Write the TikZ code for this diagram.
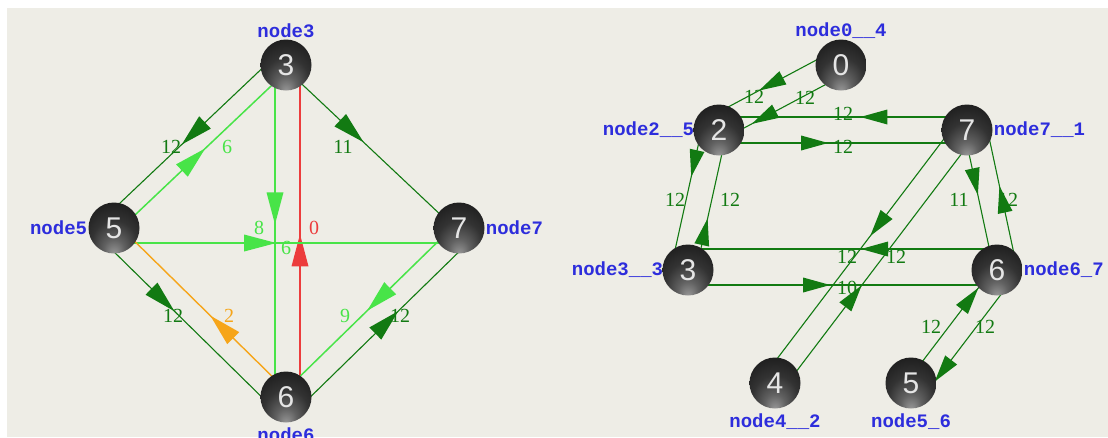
\documentclass[tikz,border=0pt]{standalone}
\usepackage{fontspec}
\setmainfont{Liberation Serif}
\newfontfamily\lblfont{Liberation Mono}
\newfontfamily\ballfont{Liberation Sans}
\usetikzlibrary{calc,decorations.markings}
\definecolor{bgbeige}{RGB}{238,237,230}
\definecolor{dkgreen}{RGB}{18,122,18}
\definecolor{ltgreen}{RGB}{72,228,72}
\definecolor{redline}{RGB}{236,60,60}
\definecolor{orline}{RGB}{246,165,25}
\definecolor{nodeblue}{RGB}{45,45,220}
\pgfdeclareradialshading{knob}{\pgfpoint{0bp}{-26bp}}{color(0bp)=(black!40); color(10bp)=(black!62); color(22bp)=(black!80); color(34bp)=(black!88); color(50bp)=(black!96)}
\pgfdeclarelayer{bg}
\pgfsetlayers{bg,main}
\def\hlen{28pt}
\def\hwid{7pt}
\tikzset{
  ball/.style={circle, minimum size=51pt, inner sep=0pt, shading=knob,
    text=white!90!black, font=\ballfont\fontsize{30}{30}\selectfont},
  nname/.style={text=nodeblue, font=\lblfont\bfseries\fontsize{19}{19}\selectfont, inner sep=1pt},
  elbl/.style={font=\fontsize{20}{20}\selectfont, inner sep=0pt},
  dk/.style={color=dkgreen, line width=1.1pt},
  lt/.style={color=ltgreen, line width=1.5pt},
  rd/.style={color=redline, line width=1.4pt},
  og/.style={color=orline, line width=1.4pt},
  tipat/.style={postaction={decorate,decoration={markings,
      mark=at position #1 with {\fill (0pt,0pt) -- (-\hlen,\hwid) -- (-\hlen,-\hwid) -- cycle;}}}}
}

\begin{document}
\begin{tikzpicture}[x=1pt,y=-1pt]
\useasboundingbox (0,0) rectangle (1108,437);
\begin{pgfonlayer}{bg}
  \fill[white] (0,0) rectangle (1108,437);
  \fill[bgbeige] (7,8) rectangle (1108,437);
\end{pgfonlayer}

% left graph
\begin{scope}
  \def\hlen{32pt}\def\hwid{8.5pt}
  \node[ball, label={[nname]above:node3}] (l3) at (286,65) {3};
  \node[ball, label={[nname]left:node5}] (l5) at (114,228) {5};
  \node[ball, label={[nname]right:node7}] (l7) at (459,228) {7};
  \node[ball, label={[nname,label distance=4pt]below:node6}] (l6) at (286,397) {6};

  \begin{pgfonlayer}{bg}
    \draw[dk, tipat=0.55] ($(l3)!14pt!-90:(l5)$) -- ($(l5)!14pt!90:(l3)$);
    \draw[lt, tipat=0.51] ($(l5)!5pt!-90:(l3)$) -- ($(l3)!5pt!90:(l5)$);
    \draw[dk, tipat=0.46] ($(l3)!3pt!-90:(l7)$) -- ($(l7)!3pt!90:(l3)$);
    \draw[lt, tipat=0.48] ($(l3)!11pt!-90:(l6)$) -- ($(l6)!11pt!90:(l3)$);
    \draw[rd, tipat=0.49] ($(l6)!14pt!-90:(l3)$) -- ($(l3)!14pt!90:(l6)$);
    \draw[lt, tipat=0.47] ($(l5)!15pt!-90:(l7)$) -- ($(l7)!15pt!90:(l5)$);
    \draw[dk, tipat=0.42] ($(l5)!17pt!-90:(l6)$) -- ($(l6)!17pt!90:(l5)$);
    \draw[og, tipat=0.46] ($(l6)!5pt!-90:(l5)$) -- ($(l5)!5pt!90:(l6)$);
    \draw[lt, tipat=0.51] ($(l7)!5pt!-90:(l6)$) -- ($(l6)!5pt!90:(l7)$);
    \draw[dk, tipat=0.58] ($(l6)!17pt!-90:(l7)$) -- ($(l7)!17pt!90:(l6)$);
  \end{pgfonlayer}

  \node[elbl, text=dkgreen] (w35) at (171,147) {12};
  \node[elbl, text=ltgreen] (w53) at (227,147) {6};
  \node[elbl, text=dkgreen] (w37) at (343,147) {11};
  \node[elbl, text=ltgreen] (w36) at (259,228) {8};
  \node[elbl, text=redline] (w63) at (314,228) {0};
  \node[elbl, text=ltgreen] (w57) at (286,248) {6};
  \node[elbl, text=dkgreen] (w56) at (173,316) {12};
  \node[elbl, text=orline] (w65) at (229,316) {2};
  \node[elbl, text=ltgreen] (w76) at (345,316) {9};
  \node[elbl, text=dkgreen] (w67) at (400,316) {12};
\end{scope}

% right graph
\begin{scope}
  \def\hlen{27pt}\def\hwid{7.5pt}
  \node[ball, label={[nname]above:node0\_\_4}] (r0) at (841,65) {0};
  \node[ball, label={[nname,label distance=-2pt]left:node2\_\_5}] (r2) at (719,130) {2};
  \node[ball, label={[nname]right:node7\_\_1}] (r7) at (967,130) {7};
  \node[ball, label={[nname,label distance=-2pt]left:node3\_\_3}] (r3) at (688,270) {3};
  \node[ball, label={[nname]right:node6\_7}] (r6) at (997,270) {6};
  \node[ball, label={[nname,label distance=4pt]below:node4\_\_2}] (r4) at (775,383) {4};
  \node[ball, label={[nname,label distance=4pt]below:node5\_6}] (r5) at (911,383) {5};

  \begin{pgfonlayer}{bg}
    \draw[dk, tipat=0.61] ($(r0)!16pt!-90:(r2)$) -- ($(r2)!16pt!90:(r0)$);
    \draw[dk, tipat=0.77] ($(r0)!-10pt!-90:(r2)$) -- ($(r2)!-10pt!90:(r0)$);
    \draw[dk, tipat=0.43] ($(r7)!13pt!-90:(r2)$) -- ($(r2)!13pt!90:(r7)$);
    \draw[dk, tipat=0.44] ($(r2)!13pt!-90:(r7)$) -- ($(r7)!13pt!90:(r2)$);
    \draw[dk, tipat=0.36] ($(r2)!17pt!-90:(r3)$) -- ($(r3)!17pt!90:(r2)$);
    \draw[dk, tipat=0.38] ($(r3)!8pt!-90:(r2)$) -- ($(r2)!8pt!90:(r3)$);
    \draw[dk, tipat=0.46] ($(r7)!3pt!-90:(r6)$) -- ($(r6)!3pt!90:(r7)$);
    \draw[dk, tipat=0.57] ($(r6)!20pt!-90:(r7)$) -- ($(r7)!20pt!90:(r6)$);
    \draw[dk, tipat=0.44] ($(r6)!21pt!-90:(r3)$) -- ($(r3)!21pt!90:(r6)$);
    \draw[dk, tipat=0.46] ($(r3)!15pt!-90:(r6)$) -- ($(r6)!15pt!90:(r3)$);
    \draw[dk, tipat=0.45] ($(r7)!13pt!-90:(r4)$) -- ($(r4)!13pt!90:(r7)$);
    \draw[dk, tipat=0.41] ($(r4)!10pt!-90:(r7)$) -- ($(r7)!10pt!90:(r4)$);
    \draw[dk, tipat=0.82] ($(r5)!-4pt!-90:(r6)$) -- ($(r6)!-4pt!90:(r5)$);
    \draw[dk, tipat=0.89] ($(r6)!-18pt!-90:(r5)$) -- ($(r5)!-18pt!90:(r6)$);
  \end{pgfonlayer}

  \node[elbl, text=dkgreen] (v02a) at (754,97) {12};
  \node[elbl, text=dkgreen] (v02b) at (805,98) {12};
  \node[elbl, text=dkgreen] (v72) at (843,114) {12};
  \node[elbl, text=dkgreen] (v27) at (843,147) {12};
  \node[elbl, text=dkgreen] (v23) at (675,200) {12};
  \node[elbl, text=dkgreen] (v32) at (730,200) {12};
  \node[elbl, text=dkgreen] (v76) at (959,200) {11};
  \node[elbl, text=dkgreen] (v67) at (1008,200) {12};
  \node[elbl, text=dkgreen] (v63) at (847,257) {12};
  \node[elbl, text=dkgreen] (v47) at (896,257) {12};
  \node[elbl, text=dkgreen] (v36) at (847,288) {10};
  \node[elbl, text=dkgreen] (v56) at (931,327) {12};
  \node[elbl, text=dkgreen] (v65) at (985,327) {12};
\end{scope}
\end{tikzpicture}
\end{document}
